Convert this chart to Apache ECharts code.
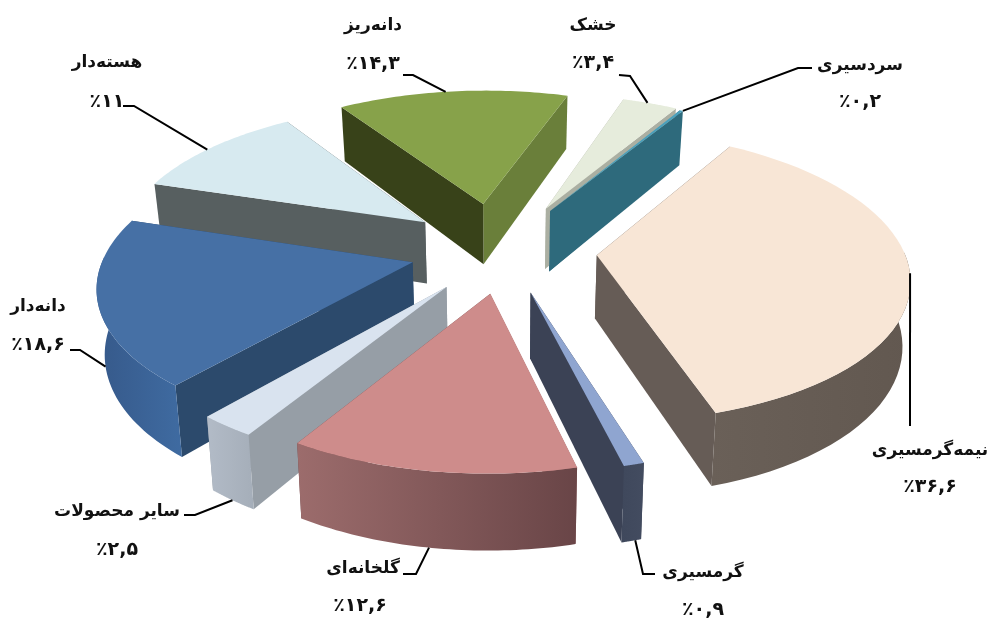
<!DOCTYPE html>
<html><head><meta charset="utf-8">
<style>html,body{margin:0;padding:0;background:#fff}#c{width:995px;height:620px}</style>
<script src="https://cdn.jsdelivr.net/npm/echarts@6/dist/echarts.min.js"></script>
</head><body><div id="c"></div>
<script>
// data, clockwise from the start of the largest slice
const categories = ['نیمه‌گرمسیری','گرمسیری','گلخانه‌ای','سایر محصولات','دانه‌دار','هسته‌دار','دانه‌ریز','خشک','سردسیری'];
const values = [36.6,0.9,12.6,2.5,18.6,11,14.3,3.4,0.2];
const valueLabels = ['٪۳۶,۶','٪۰,۹','٪۱۲,۶','٪۲,۵','٪۱۸,۶','٪۱۱','٪۱۴,۳','٪۳,۴','٪۰,۲'];

// colours
const topColors  = ['#F8E6D6','#8FA5D0','#CE8C8B','#D9E3EF','#4670A5','#D7EAF0','#87A24A','#E6ECDC','#4AA0BC'];
const startWall  = ['#665C56','#3B4255','#A06E6E','#969EA6','#2C4A6C','#575F60','#384219','#ABAFA2','#2E6A7C'];
const endWall    = ['#665C56','#3B4255','#6A4648','#969EA6','#2C4A6C','#575F60','#6A7F3A','#ABAFA2','#2E6A7C'];
const rimLeft    = ['#6A6058','#3F485C','#9C6C6C','#B2BBC7','#36598A','#575F60','#384219','#ABAFA2','#2E6A7C'];
const rimRight   = ['#625850','#434C60','#694547','#A5AEB9','#3F6BA1','#575F60','#6A7F3A','#ABAFA2','#2E6A7C'];

// layout of the projected pie
const CX = 505, CY = 250, R = 307, SQUASH = 0.46, PERSP = 0.14, DEPTH = 63, CONVERGE = 0.02, START_DEG = -58.7;
const explode     = [92,92,92,96,95,103,107,103,100];
const explodeTilt = [0,0,0,0,0,0,-5,0,-3];
const drawOrder   = [5,9,8,7,4,3,1,2,2];
const nameXY  = [[930,451],[703,573],[363,569],[117,512],[38,307],[107,63],[373,26],[593,26],[860,66]];
const valueXY = [[930,487],[703,610],[360,606],[117,550],[38,345],[107,102],[373,64],[593,63],[860,102]];
// leader: label end, elbow, then where on the arc (0..1) and how far down the wall (0..1) it lands
const leaderStart = [[910,426],[655,574],[403,574],[184,515],[70,350],[123,106],[403,75],[619,75],[812,68]];
const leaderElbow = [[910,426],[643,574],[416,574],[195,515],[80,350],[134,106],[413,75],[630,76],[798,68]];
const leaderArc   = [0.5,0.3,0.51,0.5,0.52,0.47,0.47,0.45,1];
const leaderDrop  = [0,1,1,1,1,0,0,0,0];

const TOTAL = values.reduce((a,b)=>a+b,0);
const rad = d => d*Math.PI/180;
const bounds = []; { let acc = START_DEG; values.forEach(v=>{ const n = acc + v/TOTAL*360; bounds.push([acc,n]); acc = n; }); }

function project(u,v,drop){
  const w = 1/(1-PERSP*v/R);
  const f = 1-CONVERGE*drop;
  return [CX+u*w*f, CY+SQUASH*v*w+DEPTH*w*drop];
}
function offset(i){
  const mid = rad((bounds[i][0]+bounds[i][1])/2+explodeTilt[i]);
  return [explode[i]*Math.cos(mid), explode[i]*Math.sin(mid)];
}
function rimPoint(i,deg,drop){
  const o = offset(i), a = rad(deg);
  return project(o[0]+R*Math.cos(a), o[1]+R*Math.sin(a), drop);
}
function apexPoint(i,drop){
  const o = offset(i);
  return project(o[0], o[1], drop);
}

function renderItem(params, api){
  const i = api.value(0);
  const sweep = api.value(1)/TOTAL*360;
  const a0 = bounds[i][0], a1 = a0+sweep;
  const z = drawOrder[i]*10;
  const toPx = p => api.coord(p);
  const poly = (pts,fill,dz)=>({type:'polygon',z2:z+dz,shape:{points:pts.map(toPx)},style:{fill:fill,stroke:'none',lineWidth:0}});
  const wall = (deg,fill)=>poly([apexPoint(i,0),rimPoint(i,deg,0),rimPoint(i,deg,1),apexPoint(i,1)],fill,0);
  const children = [wall(a0,startWall[i]),wall(a1,endWall[i])];
  // further wall first
  if(Math.sin(rad(a0))>Math.sin(rad(a1))){ children[0].z2=z+1; } else { children[1].z2=z+1; }
  // outer wall: near part of the arc only
  const n = 48, arc = [];
  for(let k=0;k<=n;k++) arc.push(a0+(a1-a0)*k/n);
  const vis = arc.filter(d=>{ const m=((d%360)+360)%360; return m<=183||m>=357; });
  if(vis.length>1){
    const pts = vis.map(d=>rimPoint(i,d,0)).concat(vis.slice().reverse().map(d=>rimPoint(i,d,1)));
    const g = poly(pts,null,2);
    g.style.fill = {type:'linear',x:0,y:0,x2:1,y2:0,colorStops:[{offset:0,color:rimLeft[i]},{offset:1,color:rimRight[i]}]};
    children.push(g);
  }
  const top = [apexPoint(i,0)].concat(arc.map(d=>rimPoint(i,d,0)));
  children.push(poly(top,topColors[i],3));
  return {type:'group',children};
}

function renderLabel(params, api){
  const i = api.value(0);
  const t = (str,xy,size)=>{ const p=api.coord(xy); return {type:'text',z2:1000,style:{text:str,x:p[0],y:p[1],font:'bold '+size+'px "DejaVu Sans"',fill:'#111',textAlign:'center',textVerticalAlign:'middle'}}; };
  const deg = bounds[i][0]+(bounds[i][1]-bounds[i][0])*leaderArc[i];
  const line = [leaderStart[i],leaderElbow[i],rimPoint(i,deg,leaderDrop[i])].map(p=>api.coord(p));
  return {type:'group',children:[
    {type:'polyline',z2:900,shape:{points:line},style:{stroke:'#000',lineWidth:2,fill:null}},
    t(categories[i],nameXY[i],17), t(valueLabels[i],valueXY[i],19)
  ]};
}

const rows = values.map((v,i)=>({name:categories[i],value:[i,v]}));
const chart = echarts.init(document.getElementById('c'),null,{renderer:'canvas'});
chart.setOption({
  animation:false, backgroundColor:'#fff',
  grid:{left:0,right:0,top:0,bottom:0},
  xAxis:{type:'value',min:0,max:995,show:false},
  yAxis:{type:'value',min:0,max:620,inverse:true,show:false},
  series:[
    {type:'custom',name:'slices',renderItem,data:rows,encode:{x:[],y:[]},clip:false,silent:true,z:2},
    {type:'custom',name:'labels',renderItem:renderLabel,data:rows,encode:{x:[],y:[]},clip:false,silent:true,z:3}
  ]
});
</script></body></html>
